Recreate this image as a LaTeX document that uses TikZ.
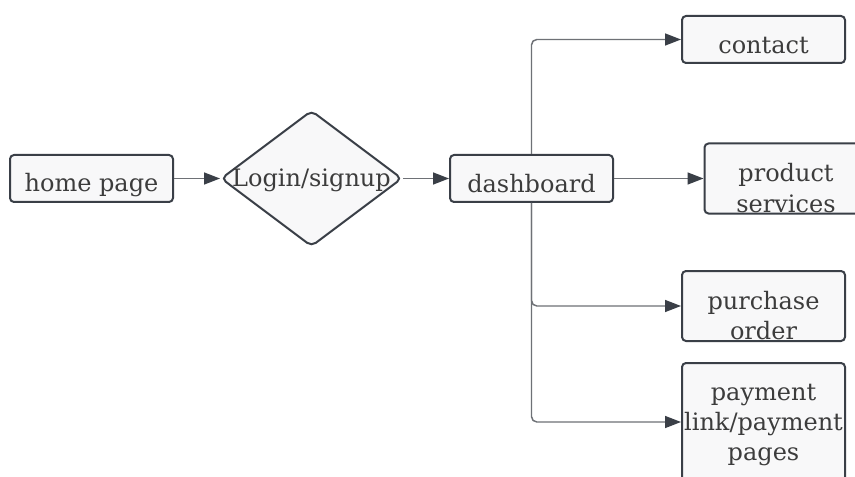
\documentclass[tikz,border=0pt]{standalone}
\usepackage{fontspec}
\setmainfont{DejaVu Serif}
\usetikzlibrary{arrows.meta, shapes.geometric, positioning}
\definecolor{InkGray}{HTML}{3A3F47}
\definecolor{WireGray}{HTML}{6E7176}
\definecolor{PaperWhite}{HTML}{F8F8F9}
\definecolor{TextGray}{HTML}{3C3C3C}
\newcommand{\PageFont}{\fontsize{18pt}{22.5pt}\selectfont}

\begin{document}
\begin{tikzpicture}[x=0.75pt, y=-0.75pt,
  pagebox/.style={draw=InkGray, fill=PaperWhite, line width=1.5pt, rounded corners=3pt,
    minimum width=122.25pt, inner sep=0pt},
  gate/.style={diamond, draw=InkGray, fill=PaperWhite, line width=1.5pt, rounded corners=4pt,
    minimum width=135.75pt, minimum height=102pt, inner sep=0pt},
  lbl/.style={text=TextGray, font=\PageFont, align=center, anchor=base, inner sep=0pt},
  flow/.style={draw=WireGray, line width=1.1pt, rounded corners=4pt,
    -{Triangle[length=12pt, width=9pt, color=InkGray]}}]
  % canvas
  \fill[white] (0,0) rectangle (855,477);
  \useasboundingbox (0,0) rectangle (855,477);
  \clip (0,0) rectangle (855,477);
  % main line: home -> login -> dashboard
  \node[pagebox, minimum height=35.25pt] (home) at (91.5,178.5) {};
  \node[lbl] (homeTxt) at (91.5,192) {home page};
  \node[gate] (login) at (311.5,178.5) {};
  \node[lbl] (loginTxt) at (311.5,187) {Login/signup};
  \node[pagebox, minimum height=35.25pt] (dash) at (531.5,178.5) {};
  \node[lbl] (dashTxt) at (531.5,193) {dashboard};
  % the pages reached from the dashboard (base = last line)
  \node[pagebox, minimum height=35.25pt] (contact) at (763.5,39.5) {};
  \node[lbl] (contactTxt) at (763.5,54) {contact};
  \node[pagebox, minimum height=52.5pt] (prod) at (786,178.5) {};
  \node[lbl] (prodTxt) at (786,212) {product\\services};
  \node[pagebox, minimum height=52.5pt] (purchase) at (763.5,306) {};
  \node[lbl] (purchaseTxt) at (763.5,339) {purchase\\order};
  \node[pagebox, minimum height=88.5pt] (payment) at (763.5,422) {};
  \node[lbl] (paymentTxt) at (763.5,460) {payment\\link/payment\\pages};
  % connectors
  \draw[flow] (home) -- (login);
  \draw[flow] (login) -- (dash);
  \draw[flow] (dash.north) |- (contact);
  \draw[flow] (dash) -- (prod);
  \draw[flow] (dash.south) |- (purchase);
  \draw[flow] (dash.south) |- (payment);
\end{tikzpicture}
\end{document}
